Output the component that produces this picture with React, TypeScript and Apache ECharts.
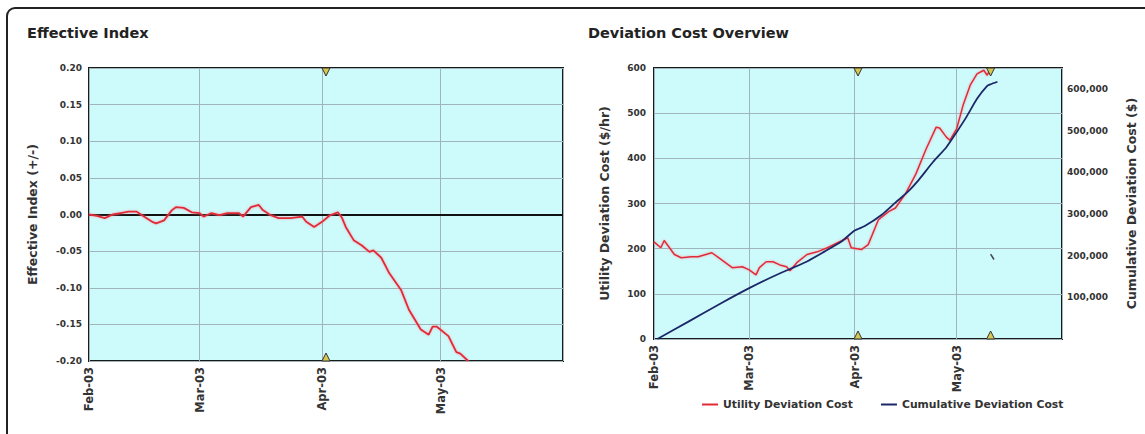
import React, { useEffect, useRef } from "react";
import * as echarts from "echarts";

// ---- Data ----
const effDates = [
  "2003-02-01", "2003-02-03", "2003-02-05", "2003-02-07", "2003-02-09", "2003-02-11", "2003-02-13",
  "2003-02-15", "2003-02-17", "2003-02-18", "2003-02-20", "2003-02-22", "2003-02-23", "2003-02-25",
  "2003-02-27", "2003-03-01", "2003-03-02", "2003-03-04", "2003-03-06", "2003-03-08", "2003-03-11",
  "2003-03-12", "2003-03-14", "2003-03-16", "2003-03-17", "2003-03-19", "2003-03-21", "2003-03-24",
  "2003-03-27", "2003-03-28", "2003-03-30", "2003-04-01", "2003-04-03", "2003-04-05", "2003-04-06",
  "2003-04-07", "2003-04-09", "2003-04-11", "2003-04-13", "2003-04-14", "2003-04-16", "2003-04-18",
  "2003-04-21", "2003-04-23", "2003-04-26", "2003-04-28", "2003-04-29", "2003-04-30", "2003-05-03",
  "2003-05-05", "2003-05-06", "2003-05-08",
];
const effValues = [
  0.0, -0.002, -0.005, 0.0, 0.002, 0.004, 0.004,
  -0.003, -0.01, -0.012, -0.008, 0.006, 0.01, 0.009,
  0.003, 0.002, -0.003, 0.002, -0.001, 0.002, 0.002,
  -0.003, 0.01, 0.013, 0.006, -0.001, -0.005, -0.005,
  -0.003, -0.01, -0.017, -0.01, -0.001, 0.003, -0.004,
  -0.017, -0.035, -0.042, -0.051, -0.049, -0.059, -0.08,
  -0.103, -0.13, -0.157, -0.164, -0.153, -0.153, -0.166,
  -0.188, -0.19, -0.2,
];

const utilDates = [
  "2003-02-01", "2003-02-03", "2003-02-04", "2003-02-07", "2003-02-09", "2003-02-12", "2003-02-14",
  "2003-02-18", "2003-02-20", "2003-02-24", "2003-02-27", "2003-03-01", "2003-03-03", "2003-03-04",
  "2003-03-06", "2003-03-08", "2003-03-10", "2003-03-12", "2003-03-13", "2003-03-15", "2003-03-18",
  "2003-03-21", "2003-03-24", "2003-03-27", "2003-03-30", "2003-03-31", "2003-04-03", "2003-04-05",
  "2003-04-08", "2003-04-11", "2003-04-13", "2003-04-16", "2003-04-19", "2003-04-22", "2003-04-25",
  "2003-04-26", "2003-04-28", "2003-04-29", "2003-05-01", "2003-05-03", "2003-05-05", "2003-05-07",
  "2003-05-09", "2003-05-10", "2003-05-11",
];
const utilValues = [
  215, 202, 218, 187, 180, 182, 182,
  191, 180, 158, 160, 153, 142, 158,
  171, 171, 164, 160, 151, 169, 187,
  193, 202, 213, 224, 202, 198, 209,
  264, 282, 290, 322, 365, 420, 469,
  467, 447, 440, 465, 520, 562, 587,
  595, 584, 598,
];

const cumDates = [
  "2003-02-02", "2003-02-11", "2003-02-21", "2003-03-01", "2003-03-08", "2003-03-13", "2003-03-18",
  "2003-03-23", "2003-03-28", "2003-04-01", "2003-04-04", "2003-04-09", "2003-04-13", "2003-04-17",
  "2003-04-20", "2003-04-24", "2003-04-28", "2003-05-01", "2003-05-04", "2003-05-07", "2003-05-10",
  "2003-05-11", "2003-05-13",
];
const cumValues = [
  0, 41000, 87000, 122000, 150000, 168000, 186000,
  209000, 233000, 260000, 271000, 298000, 327000, 356000,
  383000, 424000, 460000, 496000, 534000, 576000, 607000,
  611000, 617000,
];

const blipDates = ["2003-05-11", "2003-05-12"];
const blipValues = [188, 176];

const effMarkerDates = ["2003-04-02"];
const costMarkerDates = ["2003-04-02", "2003-05-11"];

const monthNames = ["Jan", "Feb", "Mar", "Apr", "May", "Jun", "Jul", "Aug", "Sep", "Oct", "Nov", "Dec"];
const xMin = "2003-02-01";
const xMax = "2003-06-01";

const FONT = "DejaVu Sans, Verdana, sans-serif";
const TXT = "#333";
const RED = "#e02a36";
const NAVY = "#1c2768";
const PLOT_BG = "#cdfafa";
const GRID_LINE = "#9fb4bb";

const zip = (a: string[], b: number[]) => a.map((d, i) => [d, b[i]]);

export default function App() {
  const ref = useRef<HTMLDivElement>(null);
  useEffect(() => {
    if (!ref.current) return;
    const chart = echarts.init(ref.current, null, { renderer: "svg" });

    const monthFmt = (v: number) => {
      const d = new Date(v);
      if (d.getMonth() === 5 || d.getDate() !== 1) return "";
      return monthNames[d.getMonth()] + "-" + String(d.getFullYear()).slice(2);
    };

    const xAxisBase = (gi: number) => ({
      type: "time",
      gridIndex: gi,
      min: xMin,
      max: xMax,
      splitNumber: 4,
      minInterval: 28 * 86400000,
      maxInterval: 31 * 86400000,
      axisLine: { show: false },
      axisTick: { show: false },
      axisLabel: {
        rotate: 90,
        formatter: monthFmt,
        color: TXT,
        fontFamily: FONT,
        fontSize: 11.5,
        fontWeight: "bold",
        margin: 6,
        showMinLabel: true,
        showMaxLabel: false,
        hideOverlap: false,
      },
      splitLine: { show: true, lineStyle: { color: GRID_LINE, width: 1 } },
    });

    const labelStyle = { color: TXT, fontFamily: FONT, fontSize: 9, fontWeight: "bold" };
    const nameStyle = { color: TXT, fontFamily: FONT, fontSize: 12.5, fontWeight: "bold" };

    const topTri = (dates: string[], top: number, bottom: number) => ({
      symbol: "triangle",
      symbolSize: 8,
      silent: true,
      label: { show: false },
      itemStyle: { color: "#d6c850", borderColor: "#333", borderWidth: 1 },
      data: [
        ...dates.map((d) => ({ coord: [d, top], symbolRotate: 180, symbolOffset: [0, 4] })),
        ...dates.map((d) => ({ coord: [d, bottom], symbolOffset: [0, -4] })),
      ],
    });

    chart.setOption({
      animation: false,
      backgroundColor: "#fff",
      graphic: [
        {
          type: "rect",
          shape: { x: 7, y: 8, width: 1150, height: 450, r: 8 },
          style: { fill: "none", stroke: "#222", lineWidth: 2 },
          silent: true,
        },
      ],
      title: [
        {
          text: "Effective Index",
          left: 22,
          top: 20,
          textStyle: { color: "#222", fontFamily: FONT, fontSize: 14.5, fontWeight: "bold" },
        },
        {
          text: "Deviation Cost Overview",
          left: 583,
          top: 20,
          textStyle: { color: "#222", fontFamily: FONT, fontSize: 14.5, fontWeight: "bold" },
        },
      ],
      legend: {
        data: ["Utility Deviation Cost", "Cumulative Deviation Cost"],
        left: 697,
        top: 394,
        icon: "rect",
        itemWidth: 16,
        itemHeight: 2,
        itemGap: 28,
        textStyle: { color: TXT, fontFamily: FONT, fontSize: 10.8, fontWeight: "bold" },
      },
      grid: [
        {
          left: 89,
          top: 68,
          width: 474,
          height: 293,
          show: true,
          backgroundColor: PLOT_BG,
          borderColor: "#1a1a1a",
          borderWidth: 2,
        },
        {
          left: 654,
          top: 68,
          width: 408,
          height: 271,
          show: true,
          backgroundColor: PLOT_BG,
          borderColor: "#1a1a1a",
          borderWidth: 2,
        },
      ],
      xAxis: [xAxisBase(0), xAxisBase(1)],
      yAxis: [
        {
          type: "value",
          gridIndex: 0,
          min: -0.2,
          max: 0.2,
          interval: 0.05,
          name: "Effective Index (+/-)",
          nameLocation: "middle",
          nameGap: 50,
          nameTextStyle: nameStyle,
          axisLine: { show: false },
          axisTick: { show: false },
          axisLabel: { ...labelStyle, margin: 7, formatter: (v: number) => v.toFixed(2) },
          splitLine: { show: true, lineStyle: { color: GRID_LINE, width: 1 } },
        },
        {
          type: "value",
          gridIndex: 1,
          min: 0,
          max: 600,
          interval: 100,
          name: "Utility Deviation Cost ($/hr)",
          nameLocation: "middle",
          nameGap: 43,
          nameTextStyle: nameStyle,
          axisLine: { show: false },
          axisTick: { show: false },
          axisLabel: { ...labelStyle, margin: 8 },
          splitLine: { show: true, lineStyle: { color: GRID_LINE, width: 1 } },
        },
        {
          type: "value",
          gridIndex: 1,
          position: "right",
          min: 0,
          max: 650000,
          interval: 100000,
          name: "Cumulative Deviation Cost ($)",
          nameLocation: "middle",
          nameGap: 63,
          nameRotate: 90,
          nameTextStyle: nameStyle,
          axisLine: { show: false },
          axisTick: { show: false },
          axisLabel: {
            ...labelStyle,
            margin: 5,
            formatter: (v: number) =>
              v <= 0 || v > 600000 ? "" : v.toString().replace(/\B(?=(\d{3})+(?!\d))/g, ","),
          },
          splitLine: { show: false },
        },
      ],
      series: [
        {
          name: "Effective Index",
          type: "line",
          xAxisIndex: 0,
          yAxisIndex: 0,
          data: zip(effDates, effValues),
          showSymbol: false,
          lineStyle: { color: RED, width: 1.8, shadowColor: "rgba(255,120,140,0.7)", shadowBlur: 2 },
          itemStyle: { color: RED },
          z: 5,
          markLine: {
            silent: true,
            symbol: "none",
            label: { show: false },
            lineStyle: { color: "#111", width: 2, type: "solid" },
            data: [{ yAxis: 0 }],
            z: 4,
          },
          markPoint: topTri(effMarkerDates, 0.2, -0.2),
        },
        {
          name: "Utility Deviation Cost",
          type: "line",
          xAxisIndex: 1,
          yAxisIndex: 1,
          data: zip(utilDates, utilValues),
          showSymbol: false,
          lineStyle: { color: RED, width: 1.5, shadowColor: "rgba(255,120,140,0.7)", shadowBlur: 2 },
          itemStyle: { color: RED },
          markPoint: topTri(costMarkerDates, 600, 0),
        },
        {
          name: "Cumulative Deviation Cost",
          type: "line",
          xAxisIndex: 1,
          yAxisIndex: 2,
          data: zip(cumDates, cumValues),
          showSymbol: false,
          smooth: 0.2,
          lineStyle: { color: NAVY, width: 1.8 },
          itemStyle: { color: NAVY },
        },
        {
          name: "blip",
          type: "line",
          xAxisIndex: 1,
          yAxisIndex: 1,
          data: zip(blipDates, blipValues),
          showSymbol: false,
          lineStyle: { color: "#445", width: 1.5 },
          itemStyle: { color: "#445" },
        },
      ],
    });

    return () => chart.dispose();
  }, []);

  return (
    <div
      ref={ref}
      style={{ position: "absolute", left: 0, top: 0, width: 1145, height: 434, background: "#fff" }}
    />
  );
}
